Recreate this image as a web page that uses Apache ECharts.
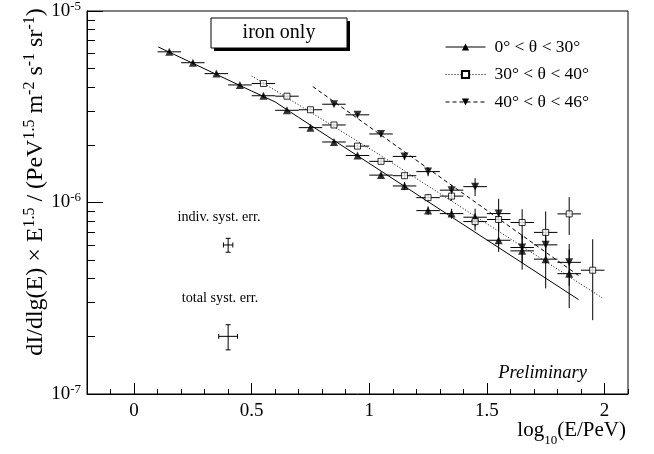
<!DOCTYPE html>
<html>
<head>
<meta charset="utf-8">
<script src="https://cdn.jsdelivr.net/npm/echarts@6.0.0/dist/echarts.min.js"></script>
<style>
    html, body {margin: 0; padding: 0; background: #fff;}
    #main {width: 654px; height: 454px;}
</style>
</head>
<body>
<div id="main"></div>
<script>
// lg(E/PeV) bin centres and flux values
var xA = [0.15, 0.25, 0.35, 0.45, 0.55, 0.65, 0.75, 0.85, 0.95, 1.05, 1.15, 1.25, 1.35, 1.45, 1.55, 1.65, 1.75, 1.85];
var yA = [6.12e-6, 5.37e-6, 4.71e-6, 4.11e-6, 3.61e-6, 3.03e-6, 2.46e-6, 2.07e-6, 1.76e-6, 1.39e-6, 1.22e-6, 9.07e-7, 8.75e-7, 8.38e-7, 6.35e-7, 5.59e-7, 5.06e-7, 4.25e-7];
var eA = [1.2e-7, 1.1e-7, 0.9e-7, 0.8e-7, 0.7e-7, 0.6e-7, 0.5e-7, 0.4e-7, 0.35e-7, 0.4e-7, 0.6e-7, 0.45e-7, 0.52e-7, 0.9e-7, 0.83e-7, 1.13e-7, 1.5e-7, 1.44e-7];

var xB = [0.55, 0.65, 0.75, 0.85, 0.95, 1.05, 1.15, 1.25, 1.35, 1.45, 1.55, 1.65, 1.75, 1.85, 1.95];
var yB = [4.18e-6, 3.59e-6, 3.05e-6, 2.54e-6, 1.97e-6, 1.64e-6, 1.38e-6, 1.06e-6, 1.08e-6, 7.95e-7, 8.15e-7, 7.86e-7, 6.98e-7, 8.72e-7, 4.43e-7];
var eB = [0.8e-7, 0.7e-7, 0.6e-7, 0.5e-7, 0.4e-7, 0.5e-7, 0.5e-7, 0.5e-7, 0.6e-7, 0.8e-7, 1.0e-7, 1.36e-7, 2.0e-7, 1.95e-7, 2.0e-7];

var xC = [0.85, 0.95, 1.05, 1.15, 1.25, 1.35, 1.45, 1.55, 1.65, 1.75, 1.85];
var yC = [3.26e-6, 2.87e-6, 2.28e-6, 1.74e-6, 1.45e-6, 1.16e-6, 1.21e-6, 8.75e-7, 5.82e-7, 6.01e-7, 4.87e-7];
var eC = [0.65e-7, 0.6e-7, 0.7e-7, 0.7e-7, 0.78e-7, 0.7e-7, 1.3e-7, 1.7e-7, 1.0e-7, 1.2e-7, 1.2e-7];

// fit curves, points
var fitAx = [0.103, 0.50, 0.60, 0.70, 1.89];
var fitAy = [6.49e-6, 3.82e-6, 3.35e-6, 2.78e-6, 3.11e-7];
var fitBx = [0.50, 1.03, 1.99];
var fitBy = [4.58e-6, 1.82e-6, 3.18e-7];
var fitCx = [0.76, 1.90];
var fitCy = [4.03e-6, 4.07e-7];

var binHalf = 0.05;

// example systematic errors (indiv., total)
var systX = [0.4, 0.4];
var systY = [6e-7, 2e-7];
var systEx = [0.02, 0.04];
var systEy = [0.5e-7, 0.3e-7];

var names = ['0° < θ < 30°', '30° < θ < 40°', '40° < θ < 46°'];
var xMajor = [0, 0.5, 1, 1.5, 2];

var FONT = 'Liberation Serif';

function pairs(xs, ys) {
    var out = [];
    for (var i = 0; i < xs.length; i++) out.push([xs[i], ys[i]]);
    return out;
}
function errRows(xs, ys, es, hx) {
    var out = [];
    for (var i = 0; i < xs.length; i++) out.push([xs[i], ys[i], es[i], hx]);
    return out;
}

// horizontal bin width + vertical stat error, caps optional
function makeErr(cap) {
    return function (params, api) {
        var x = api.value(0), y = api.value(1), e = api.value(2), hx = api.value(3);
        var l = api.coord([x - hx, y]), r = api.coord([x + hx, y]);
        var t = api.coord([x, y + e]), b = api.coord([x, y - e]);
        var st = {stroke: '#000', lineWidth: 1};
        var ch = [
            {type: 'line', shape: {x1: l[0], y1: l[1], x2: r[0], y2: r[1]}, style: st},
            {type: 'line', shape: {x1: t[0], y1: t[1], x2: b[0], y2: b[1]}, style: st}
        ];
        if (cap) {
            ch.push({type: 'line', shape: {x1: t[0] - cap, y1: t[1], x2: t[0] + cap, y2: t[1]}, style: st});
            ch.push({type: 'line', shape: {x1: b[0] - cap, y1: b[1], x2: b[0] + cap, y2: b[1]}, style: st});
            ch.push({type: 'line', shape: {x1: l[0], y1: l[1] - cap, x2: l[0], y2: l[1] + cap}, style: st});
            ch.push({type: 'line', shape: {x1: r[0], y1: r[1] - cap, x2: r[0], y2: r[1] + cap}, style: st});
        }
        return {type: 'group', children: ch};
    };
}

// x title pieces: log, subscript 10, (E/PeV), right aligned at the frame edge
var ctx = document.createElement('canvas').getContext('2d');
ctx.font = '21px "Liberation Serif"';
var wTail = ctx.measureText('(E/PeV)').width;
ctx.font = '13px "Liberation Serif"';
var wSub = ctx.measureText('10').width;
var titleRight = 626, titleY = 430;

var myChart = echarts.init(document.getElementById('main'));

var option = {
    animation: false,
    textStyle: {fontFamily: FONT, color: '#000'},
    grid: {
        left: 87, top: 7, width: 541, height: 387,
        show: true, borderColor: '#000', borderWidth: 1
    },
    legend: {
        data: names,
        orient: 'vertical',
        left: 445,
        top: 37,
        padding: 0,
        itemWidth: 40,
        itemHeight: 9,
        itemGap: 7.5,
        lineStyle: {width: 1},
        textStyle: {fontFamily: FONT, fontSize: 17.5, lineHeight: 20, color: '#000', padding: [0, 0, 0, 4]}
    },
    xAxis: [
        {
            type: 'value', min: -0.2, max: 2.1, interval: 0.1,
            axisLine: {onZero: false, lineStyle: {color: '#000'}},
            axisTick: {inside: true, length: 5, lineStyle: {color: '#000'}},
            axisLabel: {
                interval: 0, margin: 8, fontSize: 19, fontFamily: FONT, color: '#000',
                formatter: function (v) {
                    var r = Math.round(v * 10);
                    return (r >= 0 && r % 5 === 0) ? String(r / 10) : '';
                }
            },
            splitLine: {show: false}
        },
        {
            type: 'value', min: -0.2, max: 2.1, position: 'bottom',
            axisLine: {show: false, onZero: false},
            axisTick: {inside: true, length: 11, customValues: xMajor, lineStyle: {color: '#000'}},
            axisLabel: {show: false},
            splitLine: {show: false}
        }
    ],
    yAxis: {
        type: 'log', logBase: 10, min: 1e-7, max: 1e-5,
        axisLine: {onZero: false, lineStyle: {color: '#000'}},
        axisTick: {inside: true, length: 16, lineStyle: {color: '#000'}},
        minorTick: {show: true, splitNumber: 9, length: 8, lineStyle: {color: '#000'}},
        splitLine: {show: false},
        axisLabel: {
            margin: 6, color: '#000',
            formatter: function (v) {
                return '{b|10}{s|' + Math.round(Math.log10(v)) + '}';
            },
            rich: {
                b: {fontFamily: FONT, fontSize: 19, lineHeight: 22, color: '#000'},
                s: {fontFamily: FONT, fontSize: 13, lineHeight: 13, verticalAlign: 'top', color: '#000'}
            }
        }
    },
    series: [
        // fit lines, also give the legend icons
        {name: names[0], type: 'line', data: pairs(fitAx, fitAy), showSymbol: false, symbol: 'triangle',
            itemStyle: {color: '#000'}, lineStyle: {color: '#000', width: 1}, z: 3},
        {name: names[1], type: 'line', data: pairs(fitBx, fitBy), showSymbol: false, symbol: 'rect',
            itemStyle: {color: '#fff', borderColor: '#000', borderWidth: 1},
            lineStyle: {color: '#000', width: 1, type: [1, 2]}, z: 3},
        {name: names[2], type: 'line', data: pairs(fitCx, fitCy), showSymbol: false, symbol: 'triangle', symbolRotate: 180,
            itemStyle: {color: '#000'}, lineStyle: {color: '#000', width: 1, type: [4, 3]}, z: 3},

        // error bars
        {type: 'custom', renderItem: makeErr(0), data: errRows(xA, yA, eA, binHalf), encode: {x: 0, y: 1}, z: 4, silent: true},
        {type: 'custom', renderItem: makeErr(0), data: errRows(xB, yB, eB, binHalf), encode: {x: 0, y: 1}, z: 4, silent: true},
        {type: 'custom', renderItem: makeErr(0), data: errRows(xC, yC, eC, binHalf), encode: {x: 0, y: 1}, z: 4, silent: true},
        {type: 'custom', renderItem: makeErr(2.5), data: [[systX[0], systY[0], systEy[0], systEx[0]], [systX[1], systY[1], systEy[1], systEx[1]]],
            encode: {x: 0, y: 1}, z: 4, silent: true},

        // markers
        {type: 'scatter', data: pairs(xA, yA), symbol: 'triangle', symbolSize: 8,
            itemStyle: {color: '#000'}, z: 5, silent: true},
        {type: 'scatter', data: pairs(xB, yB), symbol: 'rect', symbolSize: 6,
            itemStyle: {color: '#fff', borderColor: '#000', borderWidth: 1}, z: 5, silent: true},
        {type: 'scatter', data: pairs(xC, yC), symbol: 'triangle', symbolSize: 8, symbolRotate: 180,
            itemStyle: {color: '#000'}, z: 5, silent: true}
    ],
    graphic: [
        // "iron only" pave with shadow
        {type: 'rect', shape: {x: 214, y: 21, width: 136, height: 30}, style: {fill: '#000'}, z: 10},
        {type: 'rect', shape: {x: 211, y: 18, width: 136, height: 30}, style: {fill: '#fff', stroke: '#000', lineWidth: 1}, z: 11},
        {type: 'text', x: 279, y: 33, z: 12,
            style: {text: 'iron only', fontFamily: FONT, fontSize: 20, fill: '#000', align: 'center', verticalAlign: 'middle'}},
        {type: 'text', x: 219, y: 217, z: 12,
            style: {text: 'indiv. syst. err.', fontFamily: FONT, fontSize: 14.2, fill: '#000', align: 'center', verticalAlign: 'middle'}},
        {type: 'text', x: 220, y: 298, z: 12,
            style: {text: 'total syst. err.', fontFamily: FONT, fontSize: 14.2, fill: '#000', align: 'center', verticalAlign: 'middle'}},
        {type: 'text', x: 587, y: 373, z: 12,
            style: {text: 'Preliminary', fontFamily: FONT, fontStyle: 'italic', fontSize: 18.5, fill: '#000', align: 'right', verticalAlign: 'middle'}},
        // x axis title
        {type: 'text', x: titleRight, y: titleY, z: 12,
            style: {text: '(E/PeV)', fontFamily: FONT, fontSize: 21, fill: '#000', align: 'right', verticalAlign: 'middle'}},
        {type: 'text', x: titleRight - wTail, y: titleY + 11, z: 12,
            style: {text: '10', fontFamily: FONT, fontSize: 13, fill: '#000', align: 'right', verticalAlign: 'middle'}},
        {type: 'text', x: titleRight - wTail - wSub, y: titleY, z: 12,
            style: {text: 'log', fontFamily: FONT, fontSize: 21, fill: '#000', align: 'right', verticalAlign: 'middle'}},
        // y axis title
        {type: 'text', x: 36, y: 182, rotation: Math.PI / 2, z: 12,
            style: {
                text: '{a|dI/dlg(E) × E}{u|1.5}{a| / (PeV}{u|1.5}{a| m}{u|-2}{a| s}{u|-1}{a| sr}{u|-1}{a|)}',
                align: 'center', verticalAlign: 'middle',
                rich: {
                    a: {fontFamily: FONT, fontSize: 24, lineHeight: 28, fill: '#000'},
                    u: {fontFamily: FONT, fontSize: 16, lineHeight: 16, verticalAlign: 'top', fill: '#000'}
                }
            }}
    ]
};

myChart.setOption(option);
</script>
</body>
</html>
